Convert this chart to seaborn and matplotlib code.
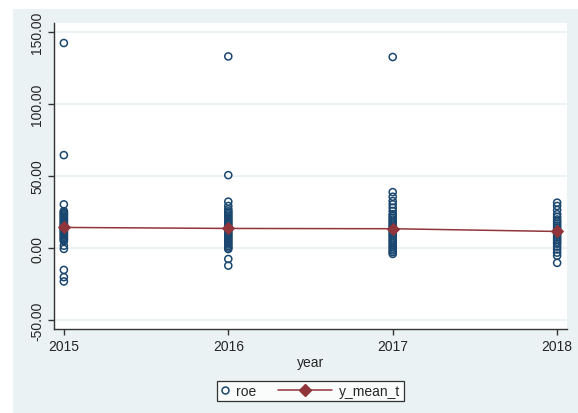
import numpy as np
import pandas as pd
import matplotlib
matplotlib.use("Agg")
import matplotlib.pyplot as plt
import seaborn as sns
from matplotlib.patches import Rectangle
from matplotlib.lines import Line2D
from matplotlib.legend_handler import HandlerLine2D

# ---------------- data ----------------
years = [2015, 2016, 2017, 2018]
roe_2015 = [142.3, 64.5, 30.3, 25.6, 24.9, 24.1, 23.4, 22.6, 21.8, 21.0, 20.2, 19.5,
            18.7, 17.9, 17.1, 16.4, 15.6, 14.8, 14.1, 13.3, 12.5, 11.8, 11.0, 10.2,
            9.4, 8.7, 7.9, 7.1, 6.3, 5.6, 4.8, 1.6, -0.6, -15.2, -20.2, -23.2]
roe_2016 = [133.0, 50.6, 32.2, 29.2, 26.9, 25.5, 24.5, 23.4, 22.3, 21.2, 20.1, 19.0,
            17.9, 16.8, 15.7, 14.6, 13.5, 12.4, 11.3, 10.2, 9.1, 8.0, 6.9, 5.8, 4.7,
            3.6, 2.5, 1.4, 0.3, -0.7, -7.6, -12.2]
roe_2017 = [132.6, 38.8, 35.6, 32.6, 30.3, 28.0, 25.7, 23.5, 22.3, 21.0, 19.8, 18.5,
            17.2, 16.0, 14.7, 13.4, 12.2, 10.9, 9.6, 8.4, 7.1, 5.8, 4.6, 3.3, 2.0, 0.8,
            -0.5, -1.7, -2.9, -4.1]
roe_2018 = [31.5, 29.2, 26.4, 23.5, 21.6, 19.8, 18.4, 17.0, 15.6, 14.2, 12.8, 11.4,
            10.0, 8.6, 7.2, 5.8, 4.4, 3.0, 1.0, -1.0, -3.2, -5.3, -10.3]
y_mean_t = [14.3, 13.6, 13.4, 11.5]
y_ticks = [-50, 0, 50, 100, 150]

roe_by_year = [roe_2015, roe_2016, roe_2017, roe_2018]
df_pts = pd.DataFrame({
    "year": [y for y, vals in zip(years, roe_by_year) for _ in vals],
    "roe": [v for vals in roe_by_year for v in vals],
})
df_mean = pd.DataFrame({"year": years, "y_mean_t": y_mean_t})

# ---------------- style ----------------
NAVY = "#1A476F"
CRAN = "#90353B"
BG = "#EAF2F3"
sns.set_style("white")
plt.rcParams["font.family"] = ["Liberation Sans", "DejaVu Sans"]

W, H = 578, 414
fig = plt.figure(figsize=(W / 100, H / 100), dpi=100)
fig.patch.set_facecolor("white")
fig.add_artist(Rectangle((13 / W, 0), 1, (H - 10) / H, transform=fig.transFigure,
                         facecolor=BG, edgecolor="none", zorder=-10))

ax = fig.add_axes([54 / W, (H - 330) / H, (567 - 54) / W, (330 - 24) / H])
ax.set_facecolor("white")

sns.scatterplot(data=df_pts, x="year", y="roe", ax=ax, marker="o",
                facecolors="none", edgecolor=NAVY, linewidth=1.1, s=26,
                legend=False, zorder=3)
sns.lineplot(data=df_mean, x="year", y="y_mean_t", ax=ax, color=CRAN,
             linewidth=1.1, marker="D", markersize=6, markeredgecolor=CRAN,
             markerfacecolor=CRAN, legend=False, zorder=4)

ax.set_xlim(2014.94, 2018.06)
ax.set_ylim(-56.2, 156.2)
ax.set_xticks(years)
ax.set_xticklabels([str(y) for y in years], fontsize=10)
ax.set_yticks(y_ticks)
ax.set_yticklabels([f"{t:.2f}" for t in y_ticks], fontsize=10, rotation=90, va="center")
ax.grid(axis="y", color=BG, linewidth=1.3, zorder=0)
ax.grid(axis="x", visible=False)
ax.set_axisbelow(True)
for s in ["top", "right"]:
    ax.spines[s].set_visible(False)
for s in ["left", "bottom"]:
    ax.spines[s].set_color("#333333")
    ax.spines[s].set_linewidth(1.0)
ax.tick_params(axis="both", direction="out", length=4, width=1, color="#333333",
               pad=3, labelsize=10, left=True, bottom=True)
ax.set_xlabel("year", fontsize=10, labelpad=2)
ax.set_ylabel("")


class LongLineHandler(HandlerLine2D):
    def __init__(self, extra, **kw):
        super().__init__(**kw)
        self.extra = extra

    def create_artists(self, legend, orig_handle, xdescent, ydescent, width, height,
                       fontsize, trans):
        return super().create_artists(legend, orig_handle, xdescent + self.extra,
                                      ydescent, width + self.extra, height,
                                      fontsize, trans)


h_roe = Line2D([], [], linestyle="none", marker="o", markerfacecolor="none",
               markeredgecolor=NAVY, markeredgewidth=1.1, markersize=5)
h_mean = Line2D([], [], color=CRAN, linewidth=1.1, marker="D", markersize=6,
                markerfacecolor=CRAN, markeredgecolor=CRAN)
leg = fig.legend([h_roe, h_mean], ["roe", "y_mean_t"], ncol=2, loc="center",
                 bbox_to_anchor=((54 + 567) / 2 / W, (H - 392) / H),
                 frameon=True, fancybox=False, fontsize=10, handlelength=0.6,
                 handletextpad=0.5, columnspacing=4.9, borderpad=0.25,
                 numpoints=1, handler_map={h_mean: LongLineHandler(extra=33)})
leg.get_frame().set_edgecolor("black")
leg.get_frame().set_linewidth(0.9)
leg.get_frame().set_facecolor("white")

fig.savefig("out.png", dpi=100)
